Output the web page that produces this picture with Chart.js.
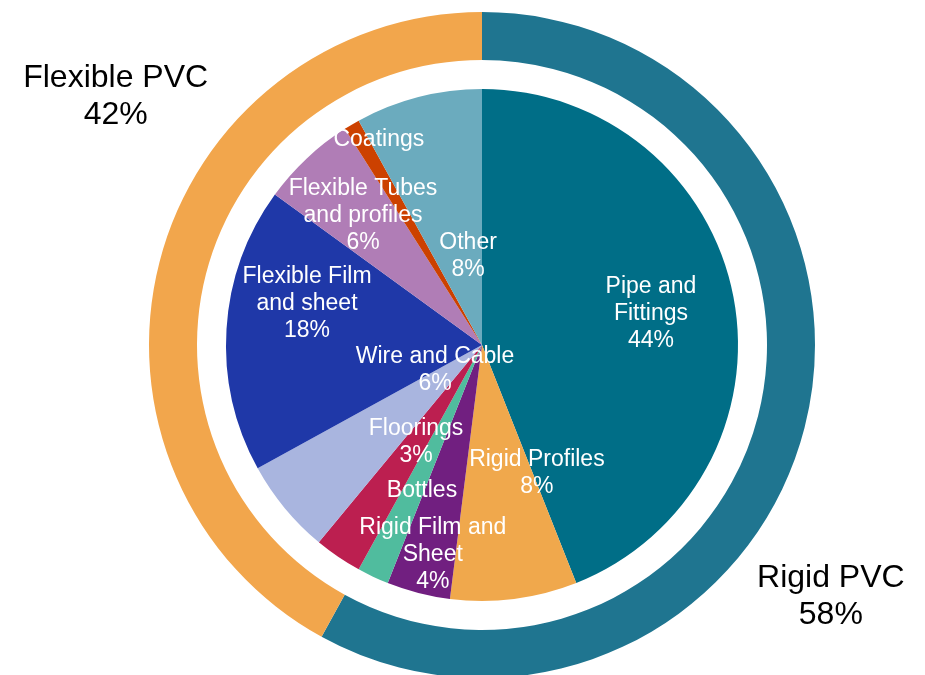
<!DOCTYPE html>
<html>
<head>
<meta charset="utf-8">
<script src="https://cdn.jsdelivr.net/npm/chart.js@4.4.1/dist/chart.umd.min.js"></script>
<style>
  html, body { margin: 0; padding: 0; background: #fff; }
</style>
</head>
<body>
<canvas id="chart1" width="925" height="675"></canvas>
<script>
// inner pie: PVC end uses
var segments = ['Pipe and Fittings', 'Rigid Profiles', 'Rigid Film and Sheet', 'Bottles', 'Floorings',
  'Wire and Cable', 'Flexible Film and sheet', 'Flexible Tubes and profiles', 'Coatings', 'Other'];
var shares = [44, 8, 4, 2, 3, 6, 18, 6, 1, 8];
var showPct = [true, true, true, false, true, true, true, true, false, true];

// outer ring: rigid vs flexible
var groups = ['Rigid PVC', 'Flexible PVC'];
var groupShares = [58, 42];

// how the slice names wrap in the labels
var sliceText = [
  ['Pipe and', 'Fittings'], ['Rigid Profiles'], ['Rigid Film and', 'Sheet'], ['Bottles'], ['Floorings'],
  ['Wire and Cable'], ['Flexible Film', 'and sheet'], ['Flexible Tubes', 'and profiles'], ['Coatings'], ['Other']
];

var sliceColors = ['#006E87', '#F0A84C', '#711F80', '#50BC9E', '#BC1F50',
  '#A9B5DF', '#1F38A8', '#B07DB6', '#CC4100', '#6BABBE'];
var ringColors = ['#1F7590', '#F2A64C'];

// label spots: fraction of the radius, and angle shift from the slice middle (degrees)
var labelRadius = [0.672, 0.54, 0.836, 0.61, 0.455, 0.206, 0.703, 0.688, 0.9, 0.355];
var labelNudge = [0, -16.2, -1.1, -2.6, 0.3, 12.6, 9.9, 0.7, 4, 5.6];
var ringLabelRadius = [1.29, 1.33];
var ringLabelNudge = [21.3, 19.8];

function drawLines(ctx, lines, x, y, lineH) {
  var top = y - (lines.length - 1) * lineH / 2;
  lines.forEach(function(t, k) {
    ctx.fillText(t, x, top + k * lineH);
  });
}

const sliceLabels = {
  id: 'sliceLabels',
  afterDatasetsDraw(chart) {
    const ctx = chart.ctx;
    ctx.save();
    ctx.textAlign = 'center';
    ctx.textBaseline = 'middle';

    ctx.fillStyle = '#ffffff';
    ctx.font = '23px "Liberation Sans", Arial, sans-serif';
    chart.getDatasetMeta(2).data.forEach(function(arc, i) {
      var p = arc.getProps(['x', 'y', 'startAngle', 'endAngle', 'outerRadius'], true);
      var a = (p.startAngle + p.endAngle) / 2 + labelNudge[i] * Math.PI / 180;
      var r = p.outerRadius * labelRadius[i];
      var lines = sliceText[i].slice();
      if (showPct[i]) lines.push(shares[i] + '%');
      drawLines(ctx, lines, p.x + Math.cos(a) * r, p.y + Math.sin(a) * r + 1, 27);
    });

    ctx.fillStyle = '#000000';
    ctx.font = '32px "Liberation Sans", Arial, sans-serif';
    chart.getDatasetMeta(0).data.forEach(function(arc, i) {
      var p = arc.getProps(['x', 'y', 'startAngle', 'endAngle', 'outerRadius'], true);
      var a = (p.startAngle + p.endAngle) / 2 + ringLabelNudge[i] * Math.PI / 180;
      var r = p.outerRadius * ringLabelRadius[i];
      drawLines(ctx, [groups[i], groupShares[i] + '%'], p.x + Math.cos(a) * r, p.y + Math.sin(a) * r + 1, 37);
    });
    ctx.restore();
  }
};

const chart1Context = document.getElementById('chart1').getContext('2d');
new Chart(chart1Context, {
  type: 'pie',
  data: {
    labels: segments,
    datasets: [{
      label: 'Type',
      data: groupShares,
      backgroundColor: ringColors,
      borderWidth: 0,
      weight: 48
    }, {
      // empty band between ring and pie
      label: 'gap',
      data: [1],
      backgroundColor: 'rgba(0,0,0,0)',
      borderWidth: 0,
      weight: 29
    }, {
      label: 'Use',
      data: shares,
      backgroundColor: sliceColors,
      borderWidth: 0,
      weight: 256
    }]
  },
  options: {
    responsive: false,
    animation: false,
    radius: 333,
    layout: {
      padding: { left: 39, top: 15 }
    },
    plugins: {
      legend: { display: false },
      tooltip: { enabled: false }
    }
  },
  plugins: [sliceLabels]
});
</script>
</body>
</html>
